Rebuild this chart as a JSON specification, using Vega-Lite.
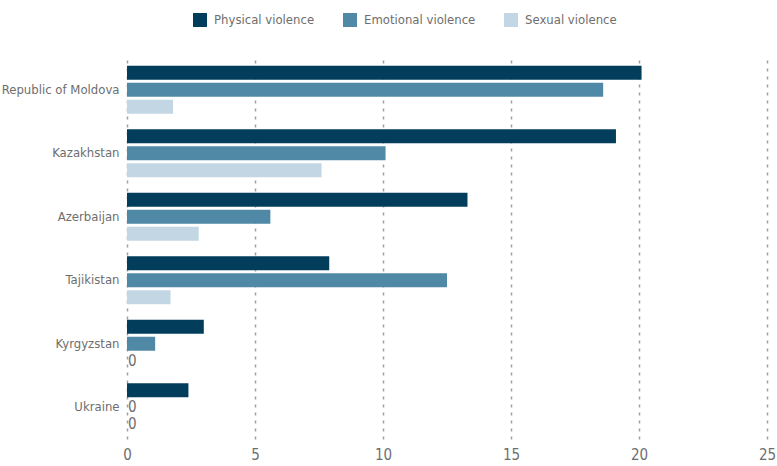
{
  "$schema": "https://vega.github.io/schema/vega-lite/v6.json",
  "autosize": "none",
  "width": 640,
  "height": 381,
  "padding": {"left": 127, "top": 58, "right": 10, "bottom": 27},
  "background": "white",
  "config": {
    "view": {"stroke": null},
    "font": "DejaVu Sans Condensed",
    "axis": {"labelFont": "DejaVu Sans Condensed", "labelColor": "#6e6e6e", "labelFontSize": 13, "domain": false, "ticks": false},
    "legend": {"labelFont": "DejaVu Sans Condensed", "labelColor": "#6e6e6e", "labelFontSize": 13}
  },
  "data": {
    "values": [
      {"country": "Republic of Moldova", "type": "Physical violence", "value": 20.1},
      {"country": "Republic of Moldova", "type": "Emotional violence", "value": 18.6},
      {"country": "Republic of Moldova", "type": "Sexual violence", "value": 1.8},
      {"country": "Kazakhstan", "type": "Physical violence", "value": 19.1},
      {"country": "Kazakhstan", "type": "Emotional violence", "value": 10.1},
      {"country": "Kazakhstan", "type": "Sexual violence", "value": 7.6},
      {"country": "Azerbaijan", "type": "Physical violence", "value": 13.3},
      {"country": "Azerbaijan", "type": "Emotional violence", "value": 5.6},
      {"country": "Azerbaijan", "type": "Sexual violence", "value": 2.8},
      {"country": "Tajikistan", "type": "Physical violence", "value": 7.9},
      {"country": "Tajikistan", "type": "Emotional violence", "value": 12.5},
      {"country": "Tajikistan", "type": "Sexual violence", "value": 1.7},
      {"country": "Kyrgyzstan", "type": "Physical violence", "value": 3.0},
      {"country": "Kyrgyzstan", "type": "Emotional violence", "value": 1.1},
      {"country": "Kyrgyzstan", "type": "Sexual violence", "value": 0},
      {"country": "Ukraine", "type": "Physical violence", "value": 2.4},
      {"country": "Ukraine", "type": "Emotional violence", "value": 0},
      {"country": "Ukraine", "type": "Sexual violence", "value": 0}
    ]
  },
  "encoding": {
    "y": {
      "field": "country", "type": "nominal", "sort": null,
      "scale": {"paddingInner": 0, "paddingOuter": 0},
      "axis": {"title": null, "labelPadding": 8, "grid": false}
    },
    "yOffset": {
      "field": "type", "type": "nominal",
      "sort": ["Physical violence", "Emotional violence", "Sexual violence"],
      "scale": {"paddingInner": 0.176, "paddingOuter": 0.456}
    },
    "x": {
      "field": "value", "type": "quantitative",
      "scale": {"domain": [0, 25]},
      "axis": {"title": null, "values": [0, 5, 10, 15, 20, 25], "grid": true, "gridColor": "#a0a0a0", "gridDash": [3, 5], "gridWidth": 1.5, "labelPadding": 8, "labelFontSize": 15, "labelFlush": false, "labelOverlap": false, "labelBound": false}
    }
  },
  "layer": [
    {
      "mark": {"type": "bar"},
      "encoding": {
        "color": {
          "field": "type", "type": "nominal",
          "sort": ["Physical violence", "Emotional violence", "Sexual violence"],
          "scale": {"domain": ["Physical violence", "Emotional violence", "Sexual violence"], "range": ["#023e5b", "#4f89a6", "#c2d6e3"]},
          "legend": {
            "title": null, "orient": "none", "direction": "horizontal",
            "legendX": 66, "legendY": -45,
            "symbolType": "square", "symbolSize": 196, "symbolStrokeWidth": 0, "symbolOpacity": 1,
            "columnPadding": 28, "labelOffset": 7
          }
        }
      }
    },
    {
      "transform": [{"filter": "datum.value == 0"}],
      "mark": {"type": "text", "align": "left", "baseline": "middle", "dx": 1, "fontSize": 15, "color": "#6e6e6e"},
      "encoding": {"text": {"field": "value", "type": "quantitative"}}
    }
  ]
}
